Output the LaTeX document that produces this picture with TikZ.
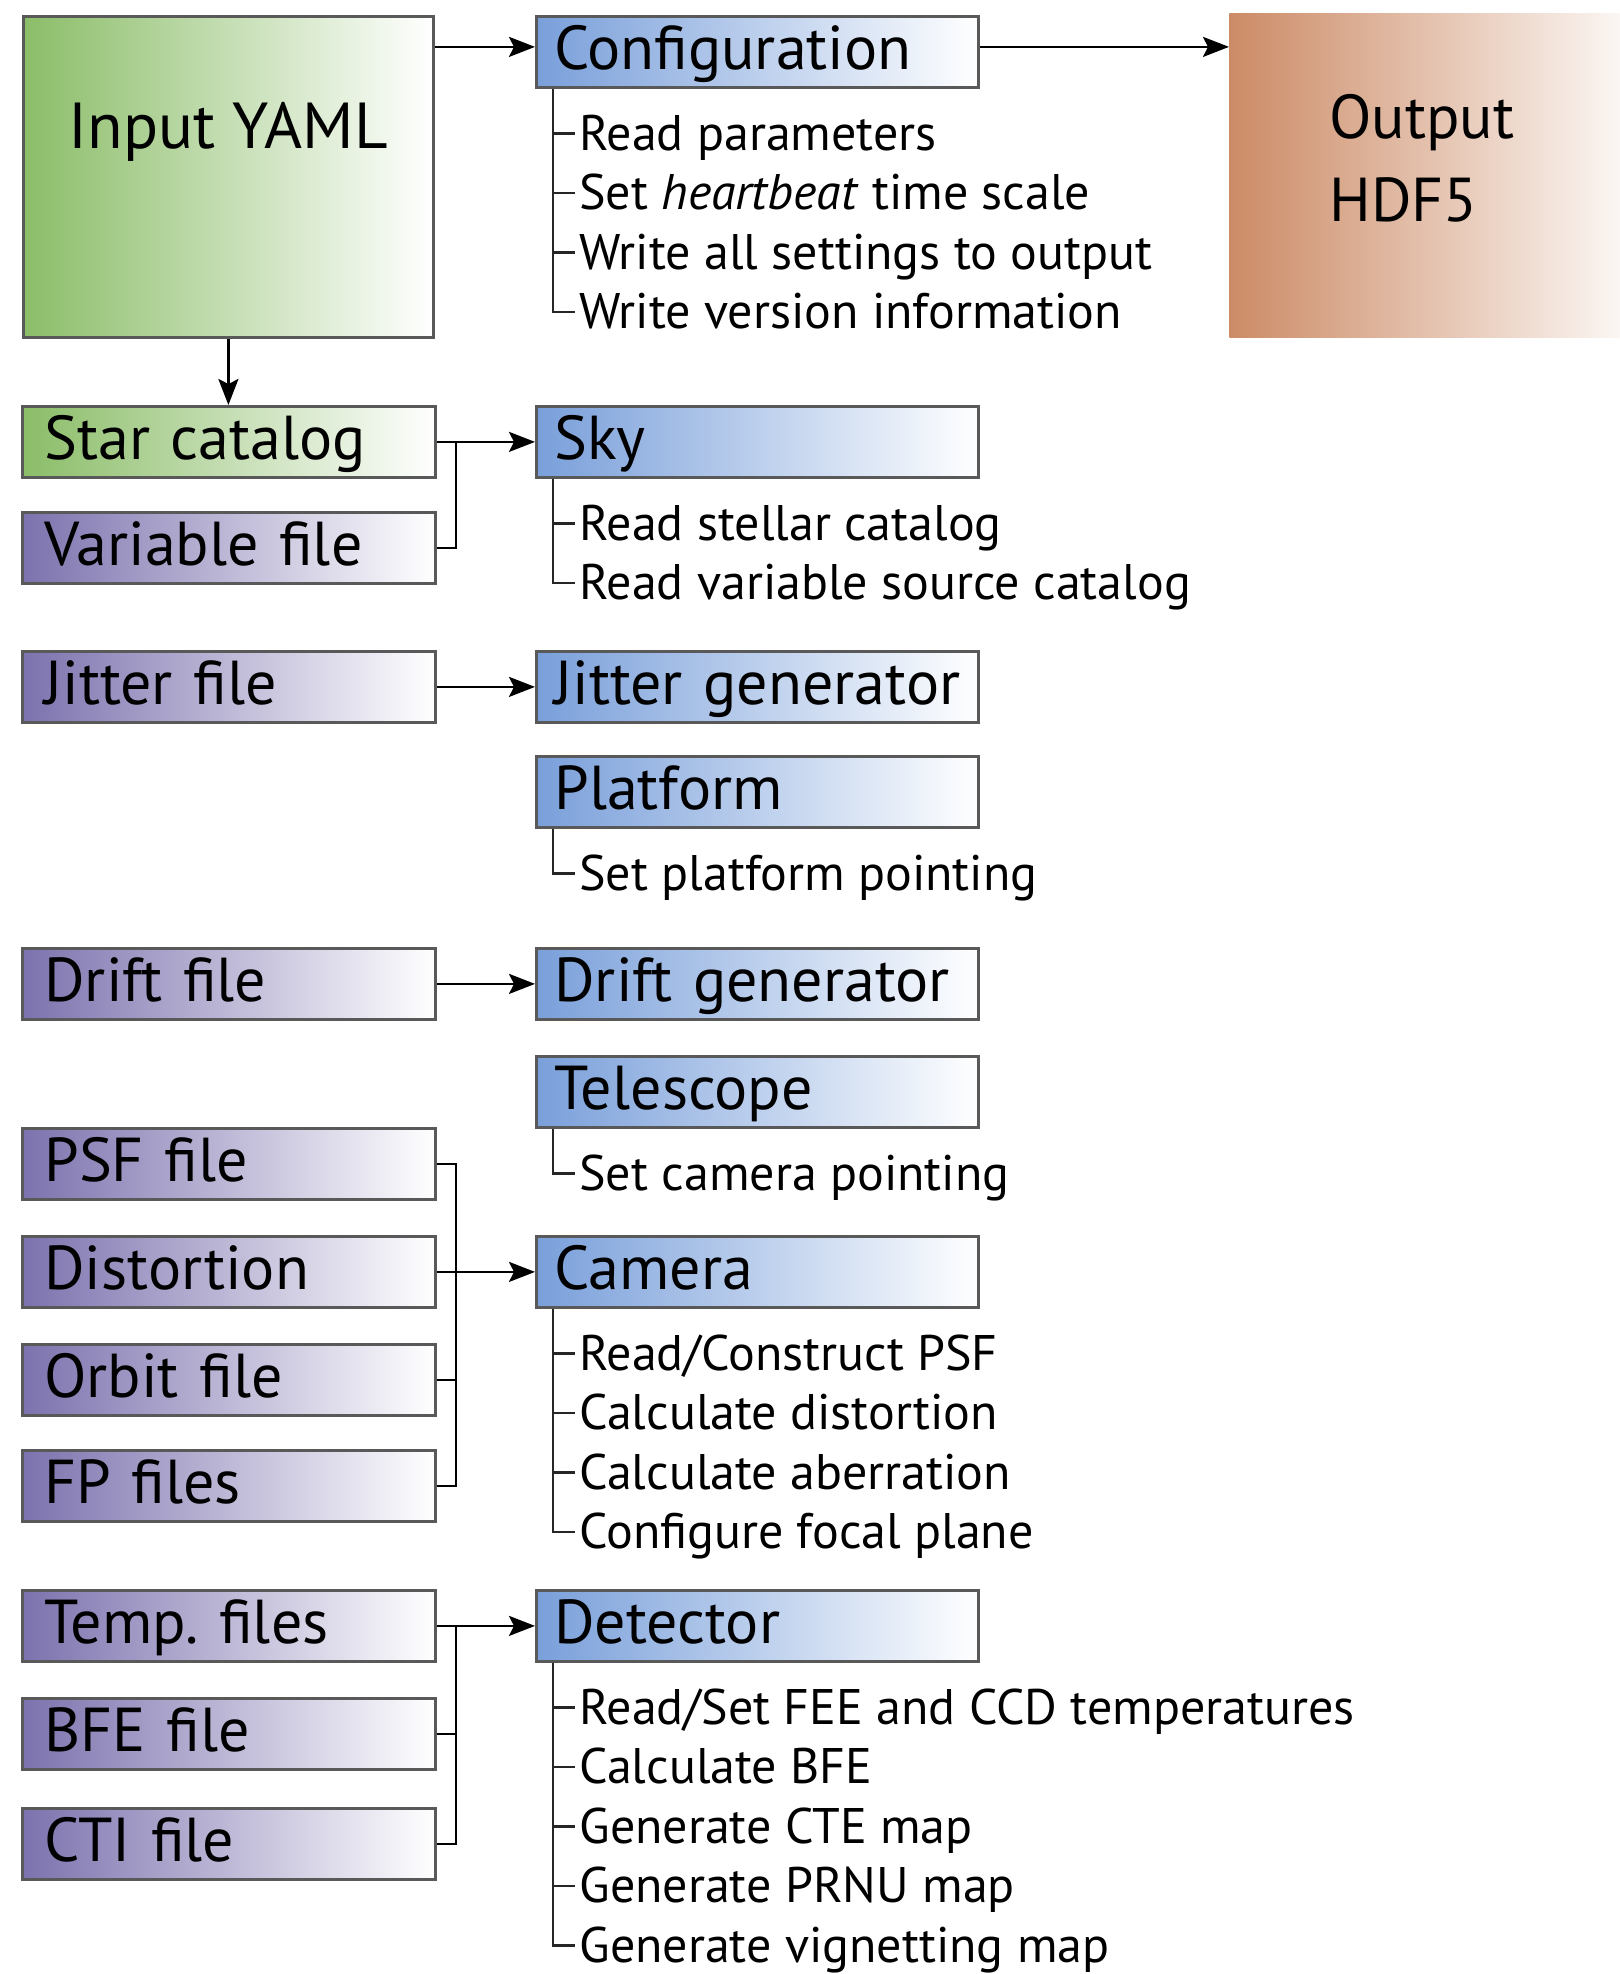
\documentclass[tikz,border=0pt]{standalone}
\usepackage{fontspec}
\setmainfont{PT Sans}
\usetikzlibrary{arrows.meta,positioning,calc}

\definecolor{yamlgreen}{RGB}{139,189,104}
\definecolor{filepurple}{RGB}{124,114,174}
\definecolor{modblue}{RGB}{121,159,218}
\definecolor{outbrown}{RGB}{204,139,102}
\definecolor{outwhite}{RGB}{251,246,243}

\newcommand{\headfont}{\fontsize{31}{38}\selectfont}
\newcommand{\taskfont}{\fontsize{25}{29.75}\selectfont}

\tikzset{
  block/.style={draw=black!65, line width=1.4pt, anchor=north west, inner ysep=0pt,
    text height=26.5pt, text depth=9pt, align=left, font=\headfont},
  filebox/.style={block, inner xsep=11pt, text width=184.5pt},
  infile/.style={filebox, left color=#1, right color=white},
  infile/.default=filepurple,
  module/.style={block, left color=modblue, right color=white, inner xsep=9pt, text width=203pt},
  task/.style={anchor=west, inner xsep=2pt, inner ysep=0pt, text height=17pt, text depth=0pt, font=\taskfont},
  tree/.style={line width=1.25pt, black!85},
  link/.style={line width=1.3pt},
  flow/.style={line width=1.3pt, -{Stealth[length=13pt, width=10pt, inset=2.5pt]}},
}

% tasks hanging below a module, joined by a tree line
\newcommand{\tasklist}[2]{%
  \foreach \txt [count=\k] in {#2} {
    \node[task] (#1-\k) at ($(#1.south west)+(40,44.5+59.5*\k-59.5)$) {\txt};
    \draw[tree] ($(#1.south west)+(18,0)$) |- (#1-\k.west);
  }}

\begin{document}
\frenchspacing
\begin{tikzpicture}[x=0.5pt, y=-0.5pt]
  \useasboundingbox (0,0) rectangle (1619,1974);

  \node[block, left color=yamlgreen, right color=white, align=center, inner xsep=0pt,
    minimum width=205pt, minimum height=160.5pt, text height=66pt, text depth=94.5pt,
    font=\fontsize{32.5}{38}\selectfont] (yaml) at (22,15) {Input YAML};
  \node[anchor=north west, left color=outbrown, right color=outwhite, inner sep=0pt,
    minimum width=195pt, minimum height=162pt, text width=95pt, text height=62.5pt, text depth=99.5pt,
    align=left, font=\fontsize{31}{41.5}\selectfont] (output) at (1229,13) {Output\\HDF5};

  % input files
  \node[infile=yamlgreen] (star) at (21,405) {Star catalog};
  \foreach \name/\y/\txt in {variable/511/Variable file, jitterfile/650/Jitter file, driftfile/947/Drift file,
      psf/1127/PSF file, distortion/1235/Distortion, orbit/1343/Orbit file, fp/1449/FP files,
      temp/1589/Temp. files, bfe/1697/BFE file, cti/1807/CTI file}
    \node[infile] (\name) at (21,\y) {\txt};

  % modules
  \foreach \name/\y/\txt in {config/15/Configuration, sky/405/Sky, jitter/650/Jitter generator,
      platform/755/Platform, drift/947/Drift generator, telescope/1055/Telescope,
      camera/1235/Camera, detector/1589/Detector}
    \node[module] (\name) at (535,\y) {\txt};

  \coordinate (topline) at ($(config.west)+(0,-5)$);
  \draw[flow] (yaml.east |- topline) -- (topline);
  \draw[flow] (config.east |- topline) -- (output.west |- topline);
  \draw[flow] (yaml.south) -- (yaml.south |- star.north);

  \draw[link] (star.east) -- ++(19,0) |- (variable.east);
  \draw[flow] (star.east) -- (sky.west);
  \draw[flow] (jitterfile.east) -- (jitter.west);
  \draw[flow] (driftfile.east) -- (drift.west);
  \draw[link] (psf.east) -- ++(19,0) |- (fp.east);
  \draw[link] (orbit.east) -- ++(19,0);
  \draw[flow] (distortion.east) -- (camera.west);
  \draw[link] (temp.east) -- ++(19,0) |- (cti.east);
  \draw[link] (bfe.east) -- ++(19,0);
  \draw[flow] (temp.east) -- (detector.west);

  \tasklist{config}{Read parameters, Set \emph{heartbeat} time scale, Write all settings to output, Write version information}
  \tasklist{sky}{Read stellar catalog, Read variable source catalog}
  \tasklist{platform}{Set platform pointing}
  \tasklist{telescope}{Set camera pointing}
  \tasklist{camera}{Read/Construct PSF, Calculate distortion, Calculate aberration, Configure focal plane}
  \tasklist{detector}{Read/Set FEE and CCD temperatures, Calculate BFE, Generate CTE map, Generate PRNU map, Generate vignetting map}
\end{tikzpicture}
\end{document}
